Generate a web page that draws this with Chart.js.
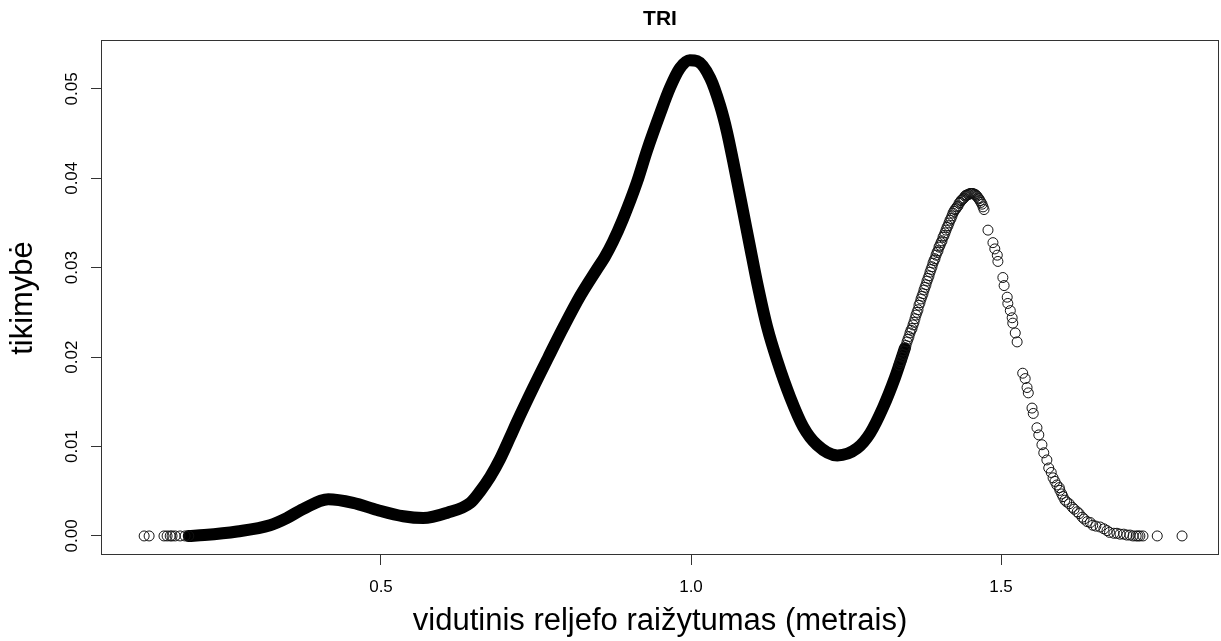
<!DOCTYPE html>
<html>
<head>
<meta charset="utf-8">
<title>TRI</title>
<script src="https://cdn.jsdelivr.net/npm/chart.js@4.4.1/dist/chart.umd.min.js"></script>
<style>
  html, body { margin: 0; padding: 0; background: #fff; }
  #wrap { width: 1221px; height: 641px; }
</style>
</head>
<body>
<div id="wrap"><canvas id="density" width="1221" height="641"></canvas></div>
<script>
// axis ticks
const xTicks = [0.5, 1.0, 1.5];
const yTicks = [0.00, 0.01, 0.02, 0.03, 0.04, 0.05];

// dense part of the density curve (overlapping points form a solid band)
const bandX = [0.190, 0.215, 0.268, 0.321, 0.348, 0.374, 0.415, 0.455, 0.494, 0.536,
               0.568, 0.607, 0.644, 0.660, 0.676, 0.692, 0.708, 0.719, 0.745, 0.770,
               0.794, 0.821, 0.848, 0.861, 0.874, 0.890, 0.913, 0.929, 0.950, 0.966,
               0.982, 0.998, 1.010, 1.031, 1.047, 1.058, 1.068, 1.084, 1.095, 1.107,
               1.123, 1.139, 1.160, 1.181, 1.203, 1.236, 1.268, 1.289, 1.310, 1.329,
               1.345];
const bandY = [0.0000, 0.0001, 0.0005, 0.0012, 0.0020, 0.0030, 0.0041, 0.0037, 0.0029, 0.0022,
               0.0020, 0.0026, 0.0037, 0.0050, 0.0066, 0.0086, 0.0110, 0.0127, 0.0165, 0.0200,
               0.0233, 0.0268, 0.0298, 0.0312, 0.0329, 0.0354, 0.0396, 0.0431, 0.0472, 0.0501,
               0.0523, 0.0532, 0.0531, 0.0512, 0.0481, 0.0452, 0.0419, 0.0363, 0.0324, 0.0282,
               0.0233, 0.0196, 0.0155, 0.0122, 0.0102, 0.0090, 0.0098, 0.0115, 0.0144, 0.0177,
               0.0210];

// single points, left tail
const leftX = [0.118, 0.126, 0.150, 0.155, 0.160, 0.163, 0.168, 0.176, 0.184, 0.190];
const leftY = [0, 0, 0, 0, 0, 0, 0, 0, 0, 0];

// single points, rise to the second peak
const riseX = [1.3355, 1.3371, 1.3387, 1.3403, 1.3419, 1.3435, 1.3452, 1.3468, 1.3484, 1.3500,
               1.3516, 1.3532, 1.3548, 1.3565, 1.3581, 1.3597, 1.3613, 1.3629, 1.3645, 1.3661,
               1.3677, 1.3694, 1.3710, 1.3726, 1.3742, 1.3758, 1.3774, 1.3790, 1.3806, 1.3823,
               1.3839, 1.3855, 1.3871, 1.3887, 1.3903, 1.3919, 1.3935, 1.3952, 1.3968, 1.3984,
               1.4000, 1.4016, 1.4032, 1.4048, 1.4065, 1.4081, 1.4097, 1.4113, 1.4129, 1.4145,
               1.4161, 1.4177, 1.4194, 1.4210, 1.4226, 1.4242, 1.4258, 1.4274, 1.4290, 1.4306,
               1.4323, 1.4339, 1.4355, 1.4371, 1.4387, 1.4403, 1.4419, 1.4435, 1.4452, 1.4468,
               1.4484, 1.4500, 1.4516, 1.4532, 1.4548, 1.4565, 1.4581, 1.4597, 1.4613, 1.4629,
               1.4645, 1.4661, 1.4677, 1.4694, 1.4710, 1.4726];
const riseY = [0.0191, 0.0194, 0.0196, 0.0200, 0.0203, 0.0207, 0.0210, 0.0213, 0.0217, 0.0220,
               0.0223, 0.0227, 0.0230, 0.0232, 0.0236, 0.0239, 0.0243, 0.0247, 0.0250, 0.0253,
               0.0258, 0.0261, 0.0265, 0.0268, 0.0271, 0.0275, 0.0278, 0.0281, 0.0285, 0.0288,
               0.0291, 0.0295, 0.0298, 0.0301, 0.0305, 0.0308, 0.0310, 0.0314, 0.0317, 0.0319,
               0.0323, 0.0325, 0.0328, 0.0330, 0.0334, 0.0336, 0.0339, 0.0342, 0.0345, 0.0347,
               0.0350, 0.0353, 0.0355, 0.0358, 0.0361, 0.0363, 0.0365, 0.0366, 0.0368, 0.0369,
               0.0372, 0.0373, 0.0375, 0.0376, 0.0377, 0.0378, 0.0380, 0.0381, 0.0381, 0.0382,
               0.0382, 0.0383, 0.0383, 0.0383, 0.0383, 0.0382, 0.0382, 0.0381, 0.0380, 0.0378,
               0.0377, 0.0375, 0.0373, 0.0371, 0.0368, 0.0365];

// single points, right tail
const fallX = [1.479, 1.487, 1.490, 1.494, 1.495, 1.503, 1.505, 1.510, 1.511, 1.515,
               1.518, 1.519, 1.523, 1.526, 1.535, 1.539, 1.542, 1.544, 1.550, 1.552,
               1.558, 1.561, 1.566, 1.569, 1.574, 1.577, 1.581, 1.584, 1.587, 1.590,
               1.594, 1.595, 1.598, 1.600, 1.603, 1.606, 1.610, 1.615, 1.618, 1.623,
               1.626, 1.631, 1.634, 1.639, 1.644, 1.648, 1.653, 1.660, 1.666, 1.671,
               1.675, 1.682, 1.687, 1.692, 1.698, 1.703, 1.708, 1.713, 1.718, 1.721,
               1.724, 1.729, 1.752, 1.792];
const fallY = [0.0342, 0.0328, 0.0321, 0.0314, 0.0307, 0.0289, 0.0280, 0.0267, 0.0260, 0.0252,
               0.0244, 0.0238, 0.0227, 0.0217, 0.0182, 0.0176, 0.0166, 0.0160, 0.0143, 0.0137,
               0.0121, 0.0113, 0.0102, 0.0093, 0.0085, 0.0076, 0.0071, 0.0065, 0.0061, 0.0057,
               0.0054, 0.0051, 0.0047, 0.0044, 0.0040, 0.0038, 0.0036, 0.0032, 0.0030, 0.0027,
               0.0025, 0.0021, 0.0019, 0.0016, 0.0015, 0.0012, 0.0011, 0.0010, 0.0008, 0.0006,
               0.0004, 0.0003, 0.0003, 0.0002, 0.0002, 0.0001, 0.0001, 0, 0, 0,
               0, 0, 0, 0];

const FONT = "'Liberation Sans', Arial, sans-serif";

const toPoints = (xs, ys) => xs.map((x, i) => ({ x: x, y: ys[i] }));
const dots = [].concat(toPoints(leftX, leftY), toPoints(riseX, riseY), toPoints(fallX, fallY));

// frame around the plotting region, like base R's box()
const plotBox = {
    id: 'plotBox',
    afterDatasetsDraw(chart) {
        const { ctx, chartArea: a } = chart;
        ctx.save();
        ctx.strokeStyle = '#333';
        ctx.lineWidth = 1;
        ctx.strokeRect(a.left + 0.5, a.top - 0.5, a.right - a.left - 1, a.bottom - a.top);
        ctx.restore();
    }
};

const ctx = document.getElementById('density').getContext('2d');
const chart = new Chart(ctx, {
    type: 'scatter',
    data: {
        datasets: [{
            label: 'band',
            data: toPoints(bandX, bandY),
            showLine: true,
            borderColor: '#000',
            borderWidth: 12,
            borderCapStyle: 'round',
            borderJoinStyle: 'round',
            cubicInterpolationMode: 'monotone',
            pointRadius: 0,
            fill: false,
            order: 2
        }, {
            label: 'points',
            data: dots,
            showLine: false,
            pointStyle: 'circle',
            pointRadius: 5,
            pointBorderWidth: 1,
            pointBorderColor: '#111',
            pointBackgroundColor: 'rgba(0,0,0,0)',
            order: 1
        }]
    },
    options: {
        responsive: false,
        devicePixelRatio: 1,
        animation: false,
        events: [],
        layout: { autoPadding: false, padding: { left: 0, right: 2, top: 0, bottom: 0 } },
        scales: {
            x: {
                type: 'linear',
                min: 0.0484,
                max: 1.8516,
                afterBuildTicks: s => { s.ticks = xTicks.map(v => ({ value: v })); },
                afterFit: s => { s.height = 86; s.paddingLeft = 0; s.paddingRight = 0; },
                grid: { display: true, drawOnChartArea: false, drawTicks: true, tickLength: 10, tickColor: '#333', tickWidth: 1 },
                border: { display: false },
                ticks: {
                    color: '#000',
                    font: { family: FONT, size: 17 },
                    padding: 12,
                    maxRotation: 0,
                    autoSkip: false,
                    callback: v => v.toFixed(1)
                },
                title: {
                    display: true,
                    text: 'vidutinis reljefo raižytumas (metrais)',
                    color: '#000',
                    font: { family: FONT, size: 31 },
                    padding: { top: 0, bottom: 1 }
                }
            },
            y: {
                type: 'linear',
                min: -0.00213,
                max: 0.05535,
                afterBuildTicks: s => { s.ticks = yTicks.map(v => ({ value: v })); },
                afterFit: s => { s.width = 101; s.paddingTop = 0; s.paddingBottom = 0; },
                grid: { display: true, drawOnChartArea: false, drawTicks: true, tickLength: 10, tickColor: '#333', tickWidth: 1 },
                border: { display: false },
                ticks: {
                    color: '#000',
                    font: { family: FONT, size: 17 },
                    minRotation: 90,
                    maxRotation: 90,
                    crossAlign: 'center',
                    padding: 2,
                    autoSkip: false,
                    callback: v => v.toFixed(2)
                },
                title: {
                    display: true,
                    text: 'tikimybė',
                    color: '#000',
                    font: { family: FONT, size: 31 },
                    padding: { top: 5, bottom: 0 }
                }
            }
        },
        plugins: {
            legend: { display: false },
            tooltip: { enabled: false },
            title: {
                display: true,
                fullSize: false,
                text: 'TRI',
                color: '#000',
                font: { family: FONT, size: 21, weight: 'bold', lineHeight: 1.2 },
                padding: { top: 7, bottom: 8.8 }
            }
        }
    },
    plugins: [plotBox]
});
</script>
</body>
</html>
